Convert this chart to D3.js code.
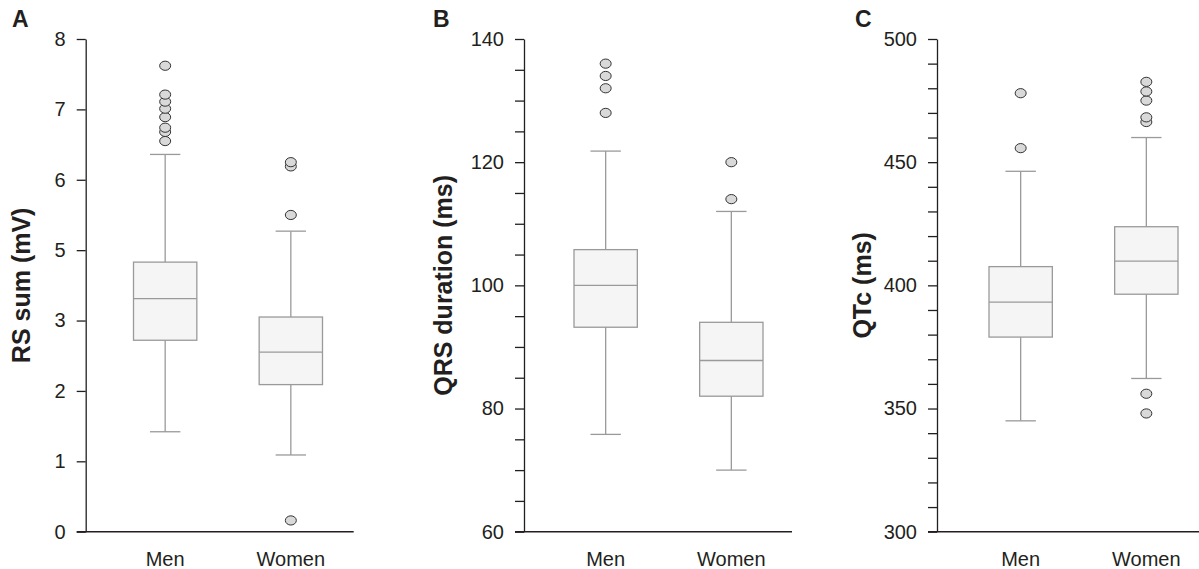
<!DOCTYPE html>
<head>
  <meta charset="utf-8">
  <script src="https://cdn.jsdelivr.net/npm/d3@7"></script>
  <style>
    body { margin: 0; background: #fff; }
    text { font-family: "Liberation Sans", Arial, sans-serif; fill: #231f20; }
  </style>
</head>
<body>
  <script>
    var width = 1199, height = 569;

    var categories = ["Men", "Women"];

    // box stats per group: [lower whisker, q1, median, q3, upper whisker]
    // panel A is read in tick positions (the printed labels skip "4")
    var rsStats = [[1.42, 2.72, 3.31, 3.83, 5.36], [1.09, 2.09, 2.55, 3.05, 4.27]];
    var rsOutliers = [[5.55, 5.68, 5.74, 5.89, 6.01, 6.11, 6.21, 6.62], [0.16, 4.50, 5.19, 5.25]];
    var rsTickLabels = ["0", "1", "2", "3", "5", "6", "7", "8"];

    var qrsStats = [[75.8, 93.2, 100, 105.8, 121.8], [70, 82, 87.8, 94, 112]];
    var qrsOutliers = [[128, 132, 134, 136], [114, 120]];

    var qtcStats = [[345, 379, 393.2, 407.6, 446.3], [362.2, 396.4, 409.8, 423.8, 460]];
    var qtcOutliers = [[455.7, 478], [348, 356, 466.3, 468.2, 475, 478.7, 482.6]];

    var panels = [
      {letter: "A", title: "RS sum (mV)", axisX: 85.7, boxStart: 47.8, letterX: 12, titleX: 30,
       stats: rsStats, outliers: rsOutliers, domain: [0, 7], ticks: d3.range(0, 8),
       fmt: function(i) { return rsTickLabels[i]; }},
      {letter: "B", title: "QRS duration (ms)", axisX: 524, boxStart: 50, letterX: 433, titleX: 452,
       stats: qrsStats, outliers: qrsOutliers, domain: [60, 140], ticks: d3.range(60, 141, 5),
       fmt: function(v) { return v % 20 === 0 ? v : ""; }},
      {letter: "C", title: "QTc (ms)", axisX: 937, boxStart: 52, letterX: 855, titleX: 871,
       stats: qtcStats, outliers: qtcOutliers, domain: [300, 500], ticks: d3.range(300, 501, 10),
       fmt: function(v) { return v % 50 === 0 ? v : ""; }}
    ];

    var plotTop = 39, plotBottom = 531.7;

    var svg = d3.select("body").append("svg")
      .attr("width", width)
      .attr("height", height);

    panels.forEach(function(p) {
      var g = svg.append("g");

      var y = d3.scaleLinear().domain(p.domain).range([plotBottom, plotTop]);

      var x = d3.scaleBand()
        .domain(categories)
        .range([p.axisX + p.boxStart, p.axisX + p.boxStart + 189])
        .paddingInner(0.496);

      var bw = x.bandwidth();

      // x axis line
      g.append("line")
        .attr("x1", p.axisX - 9).attr("x2", p.axisX + 268)
        .attr("y1", plotBottom).attr("y2", plotBottom)
        .attr("stroke", "#231f20").attr("stroke-width", 1.4);

      // y axis
      var ax = g.append("g")
        .attr("transform", "translate(" + p.axisX + ",0)")
        .call(d3.axisLeft(y).tickValues(p.ticks).tickFormat(p.fmt)
          .tickSize(9).tickSizeOuter(0).tickPadding(11));
      ax.selectAll("path, line").attr("stroke", "#231f20").attr("stroke-width", 1.3);
      ax.selectAll("text")
        .style("font-family", "'Liberation Sans', Arial, sans-serif")
        .style("font-size", "20px")
        .attr("fill", "#231f20");

      // category labels
      g.selectAll(".cat").data(categories)
        .enter().append("text")
          .attr("x", function(d) { return x(d) + bw / 2; })
          .attr("y", 566)
          .attr("text-anchor", "middle")
          .style("font-size", "20px")
          .text(function(d) { return d; });

      // boxes
      var box = g.selectAll(".box").data(p.stats)
        .enter().append("g")
          .attr("transform", function(d, i) { return "translate(" + (x(categories[i]) + bw / 2) + ",0)"; });

      box.append("line")
        .attr("x1", 0).attr("x2", 0)
        .attr("y1", function(d) { return y(d[0]); })
        .attr("y2", function(d) { return y(d[4]); })
        .attr("stroke", "#9a9a9a").attr("stroke-width", 1.3);

      box.selectAll(".cap").data(function(d) { return [d[0], d[4]]; })
        .enter().append("line")
          .attr("x1", -bw * 0.24).attr("x2", bw * 0.24)
          .attr("y1", y).attr("y2", y)
          .attr("stroke", "#9a9a9a").attr("stroke-width", 1.3);

      box.append("rect")
        .attr("x", -bw / 2).attr("width", bw)
        .attr("y", function(d) { return y(d[3]); })
        .attr("height", function(d) { return y(d[1]) - y(d[3]); })
        .attr("fill", "#f5f5f5")
        .attr("stroke", "#9a9a9a").attr("stroke-width", 1.3);

      box.append("line")
        .attr("x1", -bw / 2).attr("x2", bw / 2)
        .attr("y1", function(d) { return y(d[2]); })
        .attr("y2", function(d) { return y(d[2]); })
        .attr("stroke", "#9a9a9a").attr("stroke-width", 1.3);

      // outliers
      p.outliers.forEach(function(list, i) {
        g.selectAll(".o" + i).data(list)
          .enter().append("ellipse")
            .attr("cx", x(categories[i]) + bw / 2)
            .attr("cy", y)
            .attr("rx", 5.5).attr("ry", 4.6)
            .attr("fill", "#d9d9d9")
            .attr("stroke", "#333").attr("stroke-width", 1);
      });

      // panel letter
      g.append("text")
        .attr("x", p.letterX).attr("y", 27)
        .style("font-size", "23px").style("font-weight", "bold")
        .text(p.letter);

      // y title
      g.append("text")
        .attr("transform", "translate(" + p.titleX + "," + ((plotTop + plotBottom) / 2) + ") rotate(-90)")
        .attr("text-anchor", "middle")
        .style("font-size", "25px").style("font-weight", "bold")
        .text(p.title);
    });
  </script>
</body>
